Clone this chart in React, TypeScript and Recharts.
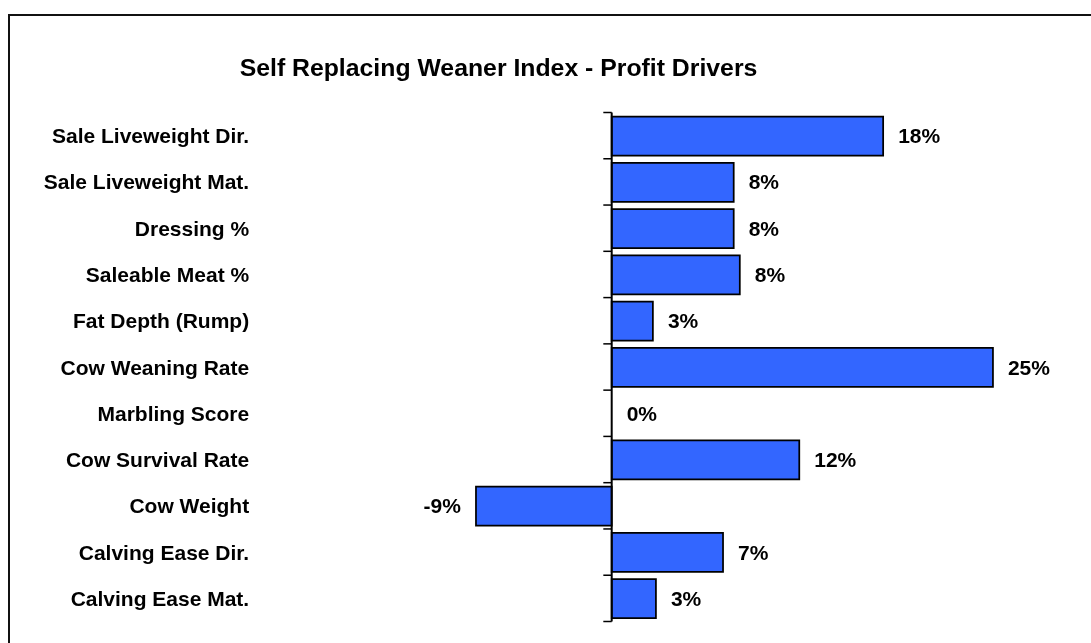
import React from "react";
import { BarChart, Bar, XAxis, YAxis, ReferenceLine, ReferenceArea, ReferenceDot } from "recharts";

const categories = [
  "Sale Liveweight Dir.",
  "Sale Liveweight Mat.",
  "Dressing %",
  "Saleable Meat %",
  "Fat Depth (Rump)",
  "Cow Weaning Rate",
  "Marbling Score",
  "Cow Survival Rate",
  "Cow Weight",
  "Calving Ease Dir.",
  "Calving Ease Mat.",
];
const values = [17.8, 8.0, 8.0, 8.4, 2.7, 25.0, 0, 12.3, -8.9, 7.3, 2.9];
const title = "Self Replacing Weaner Index - Profit Drivers";

const data = categories.map((name, i) => ({ name, value: values[i] }));

const FONT = "'Liberation Sans', Arial, Helvetica, sans-serif";

const CatTick = (props: any) => {
  const { x, y, payload } = props;
  return (
    <text x={x} y={y} dy="0.36em" textAnchor="end" fontFamily={FONT} fontWeight="bold" fontSize={21} fill="#000">
      {payload.value}
    </text>
  );
};

const makeValueLabel = (v: number) => (props: any) => {
  const vb = props.viewBox || {};
  const cx = vb.x + (vb.width || 0) / 2;
  const cy = vb.y + (vb.height || 0) / 2;
  const tx = v < 0 ? cx - 15 : cx + 15;
  return (
    <text x={tx} y={cy} dy="0.36em" textAnchor={v < 0 ? "end" : "start"} fontFamily={FONT} fontWeight="bold" fontSize={21} fill="#000">
      {Math.round(v) + "%"}
    </text>
  );
};

const makeTickShape = (isLast: boolean) => (props: any) => {
  const { x, y, width, height } = props;
  return (
    <g>
      <line x1={x} x2={x + width} y1={y} y2={y} stroke="#000" strokeWidth={1.5} />
      {isLast ? <line x1={x} x2={x + width} y1={y + height} y2={y + height} stroke="#000" strokeWidth={1.5} /> : null}
    </g>
  );
};

export default function App() {
  return (
    <div style={{ position: "relative", width: 1075, height: 627, background: "#fff" }}>
      <div
        style={{
          position: "fixed",
          left: 8,
          top: 14,
          width: 3000,
          height: 3000,
          borderTop: "2px solid #111",
          borderLeft: "2px solid #111",
          pointerEvents: "none",
        }}
      />
      <div
        style={{
          position: "absolute",
          left: 0,
          top: 47.5,
          width: 981,
          textAlign: "center",
          fontFamily: FONT,
          fontWeight: "bold",
          fontSize: 24.8,
          lineHeight: "24px",
          color: "#000",
          whiteSpace: "pre",
        }}
      >
        {title}
      </div>
      <BarChart
        width={1075}
        height={627}
        data={data}
        layout="vertical"
        margin={{ top: 104.5, right: 13.8, bottom: 13.5, left: 0 }}
      >
        <XAxis type="number" domain={[-10, 30]} hide allowDataOverflow />
        <YAxis
          type="category"
          dataKey="name"
          width={451.2}
          axisLine={false}
          tickLine={false}
          tickSize={0}
          tickMargin={210}
          interval={0}
          tick={<CatTick />}
        />
        <Bar dataKey="value" fill="#3366FF" stroke="#000" strokeWidth={1.75} barSize={39} isAnimationActive={false} />
        <ReferenceLine x={0} stroke="#000" strokeWidth={2} />
        {categories.map((c, i) => (
          <ReferenceArea
            key={"t" + i}
            x1={-0.55}
            x2={0}
            y1={c}
            y2={c}
            fill="none"
            stroke="none"
            shape={makeTickShape(i === categories.length - 1)}
          />
        ))}
        {categories.map((c, i) => (
          <ReferenceDot
            key={"l" + i}
            x={values[i]}
            y={c}
            r={0}
            fill="none"
            stroke="none"
            label={makeValueLabel(values[i])}
          />
        ))}
      </BarChart>
    </div>
  );
}
